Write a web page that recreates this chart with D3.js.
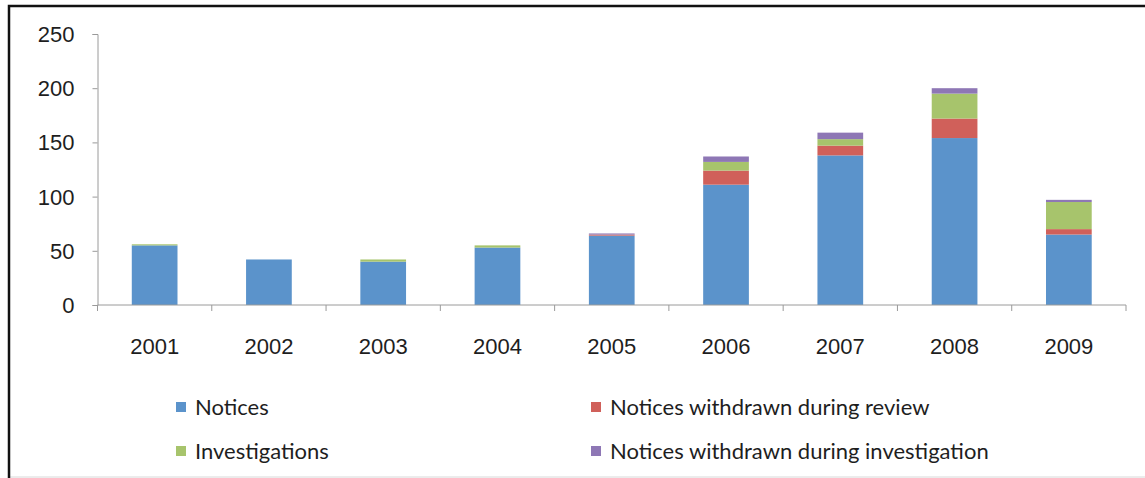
<!DOCTYPE html>
<html>
<head>
<meta charset="utf-8">
<script src="https://cdn.jsdelivr.net/npm/d3@7"></script>
<style>
  body { margin: 0; background: #fff; }
  svg { display: block; font-family: Lato, "Open Sans", sans-serif; }
  .tick text { fill: #1e1e1e; }
</style>
</head>
<body>
<div id="chart"></div>
<script>
// data
let years = ['2001', '2002', '2003', '2004', '2005', '2006', '2007', '2008', '2009'];
let notices = [55, 42, 40, 53, 64, 111, 138, 154, 65];
let withdrawnReview = [0, 0, 0, 0, 1, 13, 9, 18, 5];
let investigations = [1, 0, 2, 2, 0, 8, 6, 23, 25];
let withdrawnInvestigation = [0, 0, 0, 0, 1, 5, 6, 5, 2];
let yTicks = [0, 50, 100, 150, 200, 250];

let seriesNames = ['Notices', 'Notices withdrawn during review', 'Investigations', 'Notices withdrawn during investigation'];
let seriesColors = ['#5b93cb', '#d0605a', '#a7c46c', '#8e77b5'];

let width = 1145,
  height = 478;

let margin = { left: 97.5, right: 19, top: 34, bottom: 173 };

let svg = d3.select('#chart')
  .append('svg')
  .attr('width', width)
  .attr('height', height);

//frame round the chart (dark on top and left like the scan)
svg.append('rect')
  .attr('x', 9).attr('y', 6)
  .attr('width', width + 10).attr('height', height - 7)
  .attr('fill', 'none')
  .attr('stroke', '#d8d8d8')
  .attr('stroke-width', 1);
svg.append('path')
  .attr('d', 'M9,' + (height) + 'V6H' + width)
  .attr('fill', 'none')
  .attr('stroke', '#111')
  .attr('stroke-width', 2.5);

// table for the stack
let table = years.map(function (y, i) {
  return {
    year: y,
    s0: notices[i],
    s1: withdrawnReview[i],
    s2: investigations[i],
    s3: withdrawnInvestigation[i]
  };
});

let stack = d3.stack().keys(['s0', 's1', 's2', 's3']);
let stacked = stack(table);

let x = d3.scaleBand()
  .domain(years)
  .range([margin.left, width - margin.right])
  .paddingInner(0.6)
  .paddingOuter(0.3);

let y = d3.scaleLinear()
  .domain([0, 250])
  .range([height - margin.bottom, margin.top]);

svg.append('g')
  .selectAll('g')
  .data(stacked)
  .enter()
  .append('g')
  .attr('fill', function (d, i) { return seriesColors[i]; })
  .selectAll('rect')
  .data(function (d) { return d; })
  .enter()
  .append('rect')
  .attr('x', function (d) { return x(d.data.year); })
  .attr('y', function (d) { return y(d[1]); })
  .attr('width', x.bandwidth())
  .attr('height', function (d) { return y(d[0]) - y(d[1]); });

// y axis
let yAxis = d3.axisLeft(y).tickValues(yTicks).tickSize(5).tickPadding(18);
let gy = svg.append('g')
  .attr('transform', 'translate(' + margin.left + ',0)')
  .call(yAxis);
gy.selectAll('line, path').attr('stroke', '#9a9a9a');
gy.selectAll('text').style('font-size', '22px').attr('dy', '0.34em');

// x axis, ticks between the categories
let gx = svg.append('g')
  .attr('transform', 'translate(0,' + y(0) + ')')
  .call(d3.axisBottom(x).tickSize(0).tickPadding(33));
gx.select('.domain').attr('stroke', '#9a9a9a').attr('d', 'M' + margin.left + ',0H' + (width - margin.right));
gx.selectAll('text').style('font-size', '22px');
gx.selectAll('.sep')
  .data(d3.range(years.length + 1))
  .enter()
  .append('line')
  .attr('class', 'sep')
  .attr('x1', function (i) { return margin.left + i * (width - margin.right - margin.left) / years.length; })
  .attr('x2', function (i) { return margin.left + i * (width - margin.right - margin.left) / years.length; })
  .attr('y1', 0)
  .attr('y2', 6)
  .attr('stroke', '#9a9a9a');

// legend, two columns
let legendPos = [[176, 407], [591, 407], [176, 451], [591, 451]];
let legend = svg.append('g')
  .selectAll('g')
  .data(seriesNames)
  .enter()
  .append('g')
  .attr('transform', function (d, i) { return 'translate(' + legendPos[i][0] + ',' + legendPos[i][1] + ')'; });
legend.append('rect')
  .attr('x', 0).attr('y', -5)
  .attr('width', 10).attr('height', 10)
  .attr('fill', function (d, i) { return seriesColors[i]; });
legend.append('text')
  .attr('x', 19)
  .attr('y', 0)
  .attr('dy', '0.35em')
  .style('font-size', '22px')
  .attr('fill', '#1e1e1e')
  .text(function (d) { return d; });
</script>
</body>
</html>
